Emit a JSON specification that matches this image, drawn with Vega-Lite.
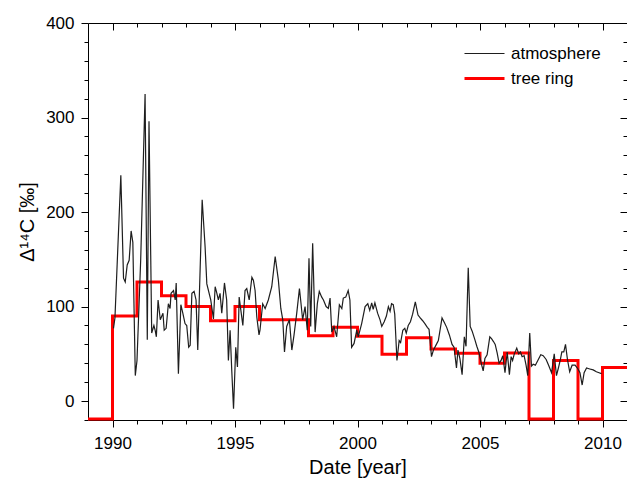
{
  "$schema": "https://vega.github.io/schema/vega-lite/v6.json",
  "width": 539,
  "height": 397,
  "autosize": {"type": "none"},
  "padding": {"left": 88, "top": 23, "right": 0, "bottom": 60},
  "background": "white",
  "config": {
    "view": {"stroke": null},
    "axis": {
      "grid": false,
      "domainColor": "#000000",
      "domainWidth": 1,
      "tickColor": "#000000",
      "tickWidth": 1,
      "labelColor": "#000000",
      "titleColor": "#000000",
      "labelFont": "Liberation Sans",
      "titleFont": "Liberation Sans",
      "labelFontSize": 17,
      "titleFontSize": 20,
      "titleFontWeight": "normal"
    },
    "legend": {"labelFont": "Liberation Sans", "labelFontSize": 17, "labelColor": "#000000"}
  },
  "datasets": {
    "tree": [
      {"year": 1989, "d14c": -19},
      {"year": 1990, "d14c": 90},
      {"year": 1991, "d14c": 126},
      {"year": 1992, "d14c": 111.5},
      {"year": 1993, "d14c": 100},
      {"year": 1994, "d14c": 85},
      {"year": 1995, "d14c": 100},
      {"year": 1996, "d14c": 86},
      {"year": 1997, "d14c": 86},
      {"year": 1998, "d14c": 69},
      {"year": 1999, "d14c": 78},
      {"year": 2000, "d14c": 68.5},
      {"year": 2001, "d14c": 49.5},
      {"year": 2002, "d14c": 67},
      {"year": 2003, "d14c": 55},
      {"year": 2004, "d14c": 50.5},
      {"year": 2005, "d14c": 40},
      {"year": 2006, "d14c": 51},
      {"year": 2007, "d14c": -19},
      {"year": 2008, "d14c": 43},
      {"year": 2009, "d14c": -19},
      {"year": 2010, "d14c": 35.5},
      {"year": 2011, "d14c": 35.5}
    ],
    "atm": [
      {"year": 1990.04, "d14c": 77}, {"year": 1990.10, "d14c": 88}, {"year": 1990.34, "d14c": 239},
      {"year": 1990.45, "d14c": 130}, {"year": 1990.52, "d14c": 126}, {"year": 1990.60, "d14c": 144},
      {"year": 1990.68, "d14c": 149}, {"year": 1990.76, "d14c": 180}, {"year": 1990.83, "d14c": 168},
      {"year": 1990.93, "d14c": 27}, {"year": 1991.00, "d14c": 43}, {"year": 1991.15, "d14c": 149},
      {"year": 1991.33, "d14c": 325}, {"year": 1991.42, "d14c": 65}, {"year": 1991.49, "d14c": 296},
      {"year": 1991.60, "d14c": 72}, {"year": 1991.69, "d14c": 80}, {"year": 1991.74, "d14c": 75},
      {"year": 1991.79, "d14c": 68}, {"year": 1991.86, "d14c": 107}, {"year": 1991.95, "d14c": 86},
      {"year": 1992.06, "d14c": 93}, {"year": 1992.11, "d14c": 75}, {"year": 1992.19, "d14c": 77},
      {"year": 1992.28, "d14c": 103}, {"year": 1992.35, "d14c": 98}, {"year": 1992.39, "d14c": 114},
      {"year": 1992.49, "d14c": 117}, {"year": 1992.56, "d14c": 107}, {"year": 1992.60, "d14c": 125},
      {"year": 1992.69, "d14c": 29}, {"year": 1992.79, "d14c": 102}, {"year": 1992.87, "d14c": 93},
      {"year": 1992.96, "d14c": 82}, {"year": 1993.03, "d14c": 80}, {"year": 1993.11, "d14c": 57},
      {"year": 1993.17, "d14c": 59}, {"year": 1993.24, "d14c": 114}, {"year": 1993.33, "d14c": 116},
      {"year": 1993.41, "d14c": 107}, {"year": 1993.48, "d14c": 54}, {"year": 1993.66, "d14c": 213},
      {"year": 1993.78, "d14c": 163}, {"year": 1993.85, "d14c": 124}, {"year": 1994.01, "d14c": 107},
      {"year": 1994.12, "d14c": 87}, {"year": 1994.19, "d14c": 121}, {"year": 1994.26, "d14c": 114},
      {"year": 1994.32, "d14c": 107}, {"year": 1994.39, "d14c": 114}, {"year": 1994.46, "d14c": 93},
      {"year": 1994.57, "d14c": 125}, {"year": 1994.66, "d14c": 107}, {"year": 1994.73, "d14c": 43},
      {"year": 1994.80, "d14c": 75}, {"year": 1994.87, "d14c": 31}, {"year": 1994.94, "d14c": -8},
      {"year": 1995.03, "d14c": 57}, {"year": 1995.10, "d14c": 36}, {"year": 1995.17, "d14c": 110},
      {"year": 1995.24, "d14c": 96}, {"year": 1995.32, "d14c": 80}, {"year": 1995.41, "d14c": 117},
      {"year": 1995.48, "d14c": 119}, {"year": 1995.58, "d14c": 107}, {"year": 1995.69, "d14c": 131},
      {"year": 1995.75, "d14c": 128}, {"year": 1995.82, "d14c": 117}, {"year": 1995.89, "d14c": 89},
      {"year": 1995.98, "d14c": 70}, {"year": 1996.02, "d14c": 75}, {"year": 1996.13, "d14c": 103},
      {"year": 1996.23, "d14c": 98}, {"year": 1996.36, "d14c": 107}, {"year": 1996.50, "d14c": 121},
      {"year": 1996.64, "d14c": 153}, {"year": 1996.77, "d14c": 128}, {"year": 1996.87, "d14c": 98},
      {"year": 1996.95, "d14c": 86}, {"year": 1997.02, "d14c": 52}, {"year": 1997.11, "d14c": 79},
      {"year": 1997.22, "d14c": 86}, {"year": 1997.32, "d14c": 54}, {"year": 1997.41, "d14c": 70},
      {"year": 1997.52, "d14c": 93}, {"year": 1997.63, "d14c": 119}, {"year": 1997.68, "d14c": 107},
      {"year": 1997.76, "d14c": 86}, {"year": 1997.86, "d14c": 100}, {"year": 1997.95, "d14c": 75},
      {"year": 1998.02, "d14c": 151}, {"year": 1998.09, "d14c": 79}, {"year": 1998.17, "d14c": 167},
      {"year": 1998.27, "d14c": 73}, {"year": 1998.36, "d14c": 103}, {"year": 1998.44, "d14c": 116},
      {"year": 1998.54, "d14c": 110}, {"year": 1998.61, "d14c": 107}, {"year": 1998.72, "d14c": 100},
      {"year": 1998.81, "d14c": 98}, {"year": 1998.88, "d14c": 109}, {"year": 1998.95, "d14c": 73},
      {"year": 1999.04, "d14c": 79}, {"year": 1999.15, "d14c": 68}, {"year": 1999.26, "d14c": 102},
      {"year": 1999.36, "d14c": 98}, {"year": 1999.42, "d14c": 109}, {"year": 1999.52, "d14c": 110},
      {"year": 1999.62, "d14c": 117}, {"year": 1999.69, "d14c": 107}, {"year": 1999.76, "d14c": 57},
      {"year": 1999.86, "d14c": 61}, {"year": 1999.97, "d14c": 75}, {"year": 2000.03, "d14c": 68},
      {"year": 2000.17, "d14c": 82}, {"year": 2000.31, "d14c": 100}, {"year": 2000.42, "d14c": 103},
      {"year": 2000.50, "d14c": 96}, {"year": 2000.58, "d14c": 104}, {"year": 2000.64, "d14c": 97},
      {"year": 2000.71, "d14c": 104}, {"year": 2000.82, "d14c": 93}, {"year": 2000.92, "d14c": 86},
      {"year": 2000.99, "d14c": 79}, {"year": 2001.09, "d14c": 84}, {"year": 2001.18, "d14c": 90},
      {"year": 2001.26, "d14c": 100}, {"year": 2001.33, "d14c": 95}, {"year": 2001.39, "d14c": 103},
      {"year": 2001.46, "d14c": 102}, {"year": 2001.52, "d14c": 92}, {"year": 2001.61, "d14c": 43},
      {"year": 2001.70, "d14c": 64}, {"year": 2001.76, "d14c": 62}, {"year": 2001.85, "d14c": 75},
      {"year": 2001.93, "d14c": 77}, {"year": 2001.99, "d14c": 72}, {"year": 2002.07, "d14c": 80},
      {"year": 2002.16, "d14c": 84}, {"year": 2002.25, "d14c": 92}, {"year": 2002.36, "d14c": 105},
      {"year": 2002.47, "d14c": 91}, {"year": 2002.56, "d14c": 88}, {"year": 2002.66, "d14c": 85},
      {"year": 2002.75, "d14c": 82}, {"year": 2002.85, "d14c": 78}, {"year": 2002.92, "d14c": 76},
      {"year": 2003.02, "d14c": 47}, {"year": 2003.10, "d14c": 54}, {"year": 2003.22, "d14c": 60},
      {"year": 2003.30, "d14c": 64}, {"year": 2003.45, "d14c": 88}, {"year": 2003.55, "d14c": 83},
      {"year": 2003.64, "d14c": 78}, {"year": 2003.75, "d14c": 70}, {"year": 2003.86, "d14c": 60},
      {"year": 2003.94, "d14c": 57}, {"year": 2004.04, "d14c": 35}, {"year": 2004.10, "d14c": 54},
      {"year": 2004.18, "d14c": 45}, {"year": 2004.27, "d14c": 28}, {"year": 2004.36, "d14c": 68},
      {"year": 2004.43, "d14c": 58}, {"year": 2004.52, "d14c": 141}, {"year": 2004.60, "d14c": 79},
      {"year": 2004.68, "d14c": 74}, {"year": 2004.79, "d14c": 65}, {"year": 2004.87, "d14c": 58},
      {"year": 2004.95, "d14c": 52}, {"year": 2005.07, "d14c": 38}, {"year": 2005.13, "d14c": 32},
      {"year": 2005.20, "d14c": 45}, {"year": 2005.29, "d14c": 49}, {"year": 2005.40, "d14c": 68},
      {"year": 2005.47, "d14c": 66}, {"year": 2005.55, "d14c": 63}, {"year": 2005.62, "d14c": 60},
      {"year": 2005.70, "d14c": 51}, {"year": 2005.78, "d14c": 40}, {"year": 2005.86, "d14c": 43},
      {"year": 2005.93, "d14c": 48}, {"year": 2006.02, "d14c": 30}, {"year": 2006.11, "d14c": 52},
      {"year": 2006.20, "d14c": 28}, {"year": 2006.27, "d14c": 47}, {"year": 2006.33, "d14c": 43},
      {"year": 2006.40, "d14c": 50}, {"year": 2006.50, "d14c": 56}, {"year": 2006.58, "d14c": 50},
      {"year": 2006.65, "d14c": 52}, {"year": 2006.72, "d14c": 47}, {"year": 2006.80, "d14c": 48},
      {"year": 2006.88, "d14c": 38}, {"year": 2006.95, "d14c": 27}, {"year": 2007.03, "d14c": 72},
      {"year": 2007.10, "d14c": 37}, {"year": 2007.17, "d14c": 39}, {"year": 2007.26, "d14c": 38},
      {"year": 2007.36, "d14c": 43}, {"year": 2007.48, "d14c": 49}, {"year": 2007.58, "d14c": 48},
      {"year": 2007.70, "d14c": 44}, {"year": 2007.80, "d14c": 38}, {"year": 2007.92, "d14c": 30},
      {"year": 2008.03, "d14c": 50}, {"year": 2008.12, "d14c": 27}, {"year": 2008.20, "d14c": 35},
      {"year": 2008.28, "d14c": 44}, {"year": 2008.34, "d14c": 52}, {"year": 2008.42, "d14c": 52},
      {"year": 2008.49, "d14c": 60}, {"year": 2008.57, "d14c": 44}, {"year": 2008.66, "d14c": 31},
      {"year": 2008.76, "d14c": 38}, {"year": 2008.88, "d14c": 38}, {"year": 2009.00, "d14c": 34},
      {"year": 2009.08, "d14c": 30}, {"year": 2009.17, "d14c": 17}, {"year": 2009.25, "d14c": 30},
      {"year": 2009.35, "d14c": 35}, {"year": 2009.48, "d14c": 34}, {"year": 2009.62, "d14c": 33},
      {"year": 2009.75, "d14c": 31}, {"year": 2009.86, "d14c": 30}, {"year": 2009.96, "d14c": 29}
    ]
  },
  "resolve": {"axis": {"x": "independent", "y": "independent"}},
  "layer": [
    {
      "data": {"name": "tree"},
      "mark": {"type": "line", "interpolate": "step-after", "clip": false},
      "encoding": {
        "x": {
          "field": "year", "type": "quantitative",
          "scale": {"domain": [1989, 2011], "nice": false, "zero": false},
          "axis": {
            "orient": "bottom",
            "values": [1990, 1991, 1992, 1993, 1994, 1995, 1996, 1997, 1998, 1999, 2000, 2001, 2002, 2003, 2004, 2005, 2006, 2007, 2008, 2009, 2010],
            "format": "d",
            "labelExpr": "datum.value % 5 === 0 ? datum.label : ''",
            "tickSize": {"condition": {"test": "datum.value % 5 === 0", "value": 7}, "value": 4},
            "labelPadding": 8,
            "labelFlush": false,
            "labelOverlap": false,
            "title": "Date [year]",
            "titlePadding": 6
          }
        },
        "y": {
          "field": "d14c", "type": "quantitative",
          "scale": {"domain": [-20, 400], "nice": false, "zero": false},
          "axis": {
            "orient": "left",
            "values": [-20, 0, 20, 40, 60, 80, 100, 120, 140, 160, 180, 200, 220, 240, 260, 280, 300, 320, 340, 360, 380, 400],
            "labelExpr": "datum.value % 100 === 0 ? datum.label : ''",
            "tickSize": {"condition": {"test": "datum.value % 100 === 0", "value": 7}, "value": 4},
            "labelPadding": 7,
            "labelFlush": false,
            "labelOverlap": false,
            "title": "Δ¹⁴C [‰]",
            "titlePadding": 8
          }
        },
        "color": {
          "datum": "tree ring", "type": "nominal",
          "scale": {"domain": ["atmosphere", "tree ring"], "range": ["#1e1e1e", "#ff0000"]},
          "legend": {"title": null, "orient": "none", "legendX": 375, "legendY": 18, "symbolType": "stroke", "symbolSize": 1600, "labelOffset": 5, "clipHeight": 25, "rowPadding": 0, "padding": 0}
        },
        "strokeWidth": {
          "datum": "tree ring", "type": "ordinal",
          "scale": {"domain": ["atmosphere", "tree ring"], "range": [1.2, 3]},
          "legend": {"title": null, "orient": "none", "legendX": 375, "legendY": 18, "symbolType": "stroke", "symbolSize": 1600, "labelOffset": 5, "clipHeight": 25, "rowPadding": 0, "padding": 0}
        }
      }
    },
    {
      "data": {"name": "atm"},
      "mark": {"type": "line", "clip": false},
      "encoding": {
        "x": {
          "field": "year", "type": "quantitative",
          "axis": {
            "orient": "top",
            "values": [1990, 1991, 1992, 1993, 1994, 1995, 1996, 1997, 1998, 1999, 2000, 2001, 2002, 2003, 2004, 2005, 2006, 2007, 2008, 2009, 2010],
            "labels": false,
            "tickSize": {"condition": {"test": "datum.value % 5 === 0", "value": -7}, "value": -4},
            "title": null
          }
        },
        "y": {
          "field": "d14c", "type": "quantitative",
          "axis": {
            "orient": "right",
            "values": [-20, 0, 20, 40, 60, 80, 100, 120, 140, 160, 180, 200, 220, 240, 260, 280, 300, 320, 340, 360, 380, 400],
            "labels": false,
            "tickSize": {"condition": {"test": "datum.value % 100 === 0", "value": -7}, "value": -4},
            "title": null
          }
        },
        "color": {"datum": "atmosphere", "type": "nominal"},
        "strokeWidth": {"datum": "atmosphere", "type": "ordinal"}
      }
    }
  ]
}
